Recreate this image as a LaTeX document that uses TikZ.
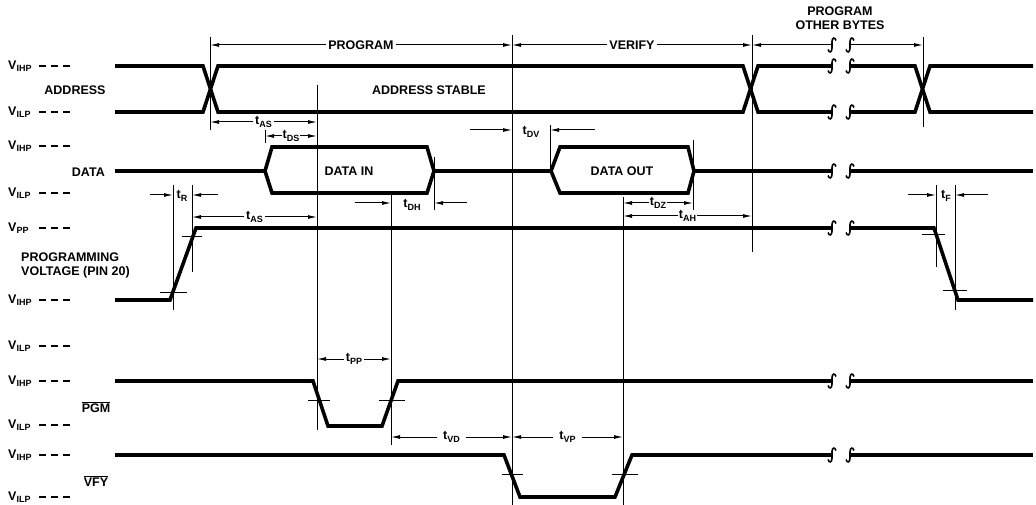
\documentclass[tikz,border=0pt]{standalone}
\usepackage{fontspec}
\setmainfont{Liberation Sans}
\usetikzlibrary{arrows.meta}
\newcommand{\sbs}[1]{\raisebox{-0.35ex}{\fontsize{9}{10}\selectfont #1}}
\newcommand{\sbreak}[2]{\draw[brk] (#1+4,#2-4.5) .. controls (#1+3,#2-8) and (#1,#2-8) .. (#1,#2-3) -- (#1,#2+3) .. controls (#1,#2+8) and (#1-3,#2+8) .. (#1-4,#2+4.5);}
\tikzset{
  sig/.style={line width=3.6pt},
  guide/.style={line width=0.9pt},
  dim/.style={line width=1pt, {Latex[length=9pt,width=4pt]}-{Latex[length=9pt,width=4pt]}},
  into/.style={line width=1pt, -{Latex[length=9pt,width=4pt]}},
  tickmark/.style={line width=1pt},
  brk/.style={line width=1.6pt},
  lbl/.style={inner sep=1pt},
  dlab/.style={fill=white, inner sep=2pt},
  lvl/.style={anchor=west, inner sep=0pt},
  lvldash/.style={line width=1.2pt, dash pattern=on 7pt off 5pt},
}
\begin{document}
\begin{tikzpicture}[x=1pt, y=-1pt, every node/.style={font=\fontsize{12.5}{14}\selectfont\bfseries}]
        \useasboundingbox (0,0) rectangle (1036,505);
        % level labels on the left
        \foreach \y/\s [count=\i] in {66/IHP,112/ILP,146/IHP,193/ILP,228/PP,300/IHP,346/ILP,381/IHP,425/ILP,455/IHP,497/ILP} {
            \node[lvl] (lv\i) at (8,\y) {V\sbs{\s}};
            \draw[lvldash] (39,\y) -- (75,\y);
        }
        \node[lbl] (addr) at (75,90) {ADDRESS};
        \node[lbl, anchor=east] (data) at (106,172) {DATA};
        \node[lbl, align=left, anchor=west] (pv) at (20,265) {PROGRAMMING\\VOLTAGE (PIN 20)};
        \node[lbl] (pgm) at (96,407) {$\overline{\hbox{PGM}}$};
        \node[lbl] (vfy) at (96,481) {$\overline{\hbox{VFY}}$};
        % waveforms
        \draw[sig] (115,66) -- (203,66) -- (218,112) -- (743,112) -- (758,66) -- (832,66);
        \draw[sig] (115,112) -- (203,112) -- (218,66) -- (743,66) -- (758,112) -- (832,112);
        \draw[sig] (850,66) -- (915,66) -- (930,112) -- (1033,112);
        \draw[sig] (850,112) -- (915,112) -- (930,66) -- (1033,66);
        \draw[sig] (115,171) -- (265,171) -- (272,147) -- (427,147) -- (434,171) -- (551,171) -- (560,147) -- (688,147) -- (694,171) -- (832,171);
        \draw[sig] (265,171) -- (272,193) -- (427,193) -- (434,171);
        \draw[sig] (551,171) -- (560,193) -- (688,193) -- (694,171);
        \draw[sig] (850,171) -- (1033,171);
        \draw[sig] (115,300) -- (170,300) -- (196,228) -- (832,228);
        \draw[sig] (850,228) -- (934,228) -- (958,300) -- (1033,300);
        \draw[sig] (115,381) -- (313,381) -- (328,426) -- (382,426) -- (398,381) -- (832,381);
        \draw[sig] (850,381) -- (1033,381);
        \draw[sig] (115,455) -- (504,455) -- (520,497) -- (615,497) -- (632,455) -- (832,455);
        \draw[sig] (850,455) -- (1033,455);
        \foreach \y in {45,66,112,171,228,381,455} {
            \sbreak{832}{\y}
            \sbreak{850}{\y}
        }
        \node[lbl] (stable) at (429,90) {ADDRESS STABLE};
        \node[lbl] (din) at (349,171) {DATA IN};
        \node[lbl] (dout) at (622,171) {DATA OUT};
        \node[lbl, align=center] (other) at (840,18) {PROGRAM\\OTHER BYTES};
        % guide lines
        \draw[guide] (210,37) -- (210,130);
        \draw[guide] (265,130) -- (265,143);
        \draw[guide] (317,85) -- (317,430);
        \draw[guide] (391,193) -- (391,445);
        \draw[guide] (434,157) -- (434,210);
        \draw[guide] (512,35) -- (512,505);
        \draw[guide] (550,125) -- (550,171);
        \draw[guide] (623,197) -- (623,505);
        \draw[guide] (693,140) -- (693,210);
        \draw[guide] (752,35) -- (752,252);
        \draw[guide] (923,37) -- (923,127);
        \draw[guide] (173,185) -- (173,310);
        \draw[guide] (192,185) -- (192,272);
        \draw[guide] (936,185) -- (936,267);
        \draw[guide] (955,185) -- (955,310);
        % ticks on the edges
        \draw[tickmark] (160,292) -- (187,292);
        \draw[tickmark] (182,237) -- (202,237);
        \draw[tickmark] (922,235) -- (945,235);
        \draw[tickmark] (943,290) -- (967,290);
        \draw[tickmark] (308,400) -- (330,400);
        \draw[tickmark] (379,400) -- (405,400);
        \draw[tickmark] (502,474) -- (523,474);
        \draw[tickmark] (612,474) -- (638,474);
        % phases
        \draw[dim] (210,45) -- node[dlab] (prog) {PROGRAM} (512,45);
        \draw[dim] (512,45) -- node[dlab] (ver) {VERIFY} (752,45);
        \draw[into] (832,45) -- (752,45);
        \draw[into] (850,45) -- (923,45);
        % timing
        \draw[dim] (210,122) -- node[dlab] (tas1) {t\sbs{AS}} (317,122);
        \draw[dim] (265,136) -- node[dlab, inner sep=1pt] (tds) {t\sbs{DS}} (317,136);
        \draw[dim] (192,217) -- node[dlab] (tas2) {t\sbs{AS}} (317,217);
        \draw[dim] (623,203) -- node[dlab, inner sep=1pt] (tdz) {t\sbs{DZ}} (693,203);
        \draw[dim] (623,216) -- node[dlab, inner sep=1pt] (tah) {t\sbs{AH}} (752,216);
        \draw[dim] (317,359) -- node[dlab] (tpp) {t\sbs{PP}} (391,359);
        \draw[dim] (391,437) -- node[dlab, inner sep=6pt] (tvd) {t\sbs{VD}} (512,437);
        \draw[dim] (512,437) -- node[dlab, inner sep=6pt] (tvp) {t\sbs{VP}} (623,437);
        \draw[into] (150,195) -- (173,195);
        \draw[into] (218,195) -- (192,195);
        \node[lbl] (tr) at (182,196) {t\sbs{R}};
        \draw[into] (355,203) -- (391,203);
        \draw[into] (467,203) -- (434,203);
        \node[lbl] (tdh) at (412,205) {t\sbs{DH}};
        \draw[into] (470,130) -- (512,130);
        \draw[into] (595,130) -- (550,130);
        \node[lbl] (tdv) at (531,132) {t\sbs{DV}};
        \draw[into] (908,195) -- (936,195);
        \draw[into] (988,195) -- (955,195);
        \node[lbl] (tf) at (946,196) {t\sbs{F}};
\end{tikzpicture}
\end{document}
